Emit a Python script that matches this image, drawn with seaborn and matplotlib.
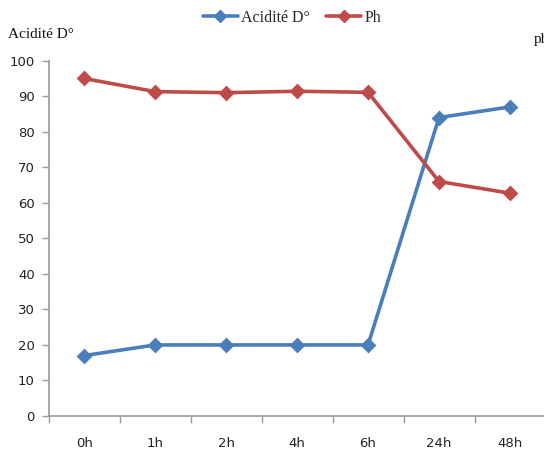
import matplotlib
matplotlib.use("Agg")
import matplotlib.pyplot as plt
from matplotlib.lines import Line2D
from matplotlib.ticker import FixedLocator, NullFormatter
import seaborn as sns
import pandas as pd

# Data
temps = ["0h", "1h", "2h", "4h", "6h", "24h", "48h"]
acidite = [17, 20, 20, 20, 20, 84, 87]
ph = [95, 91.3, 91, 91.4, 91.1, 66, 62.7]

BLUE = "#4A7EBB"
RED = "#BE4B48"

df = pd.DataFrame({
    "temps": temps * 2,
    "valeur": acidite + ph,
    "serie": ["Acidité D°"] * len(temps) + ["Ph"] * len(temps),
})

sns.set_theme(style="white")
plt.rcParams["font.family"] = ["DejaVu Sans"]

W, H = 544, 458
fig = plt.figure(figsize=(W / 100, H / 100), dpi=100)
left, right, bottom, top = 48.6, 545.5, 416, 60.7
ax = fig.add_axes([left / W, 1 - bottom / H, (right - left) / W, (bottom - top) / H])

sns.pointplot(
    data=df, x="temps", y="valeur", hue="serie", order=temps,
    palette={"Acidité D°": BLUE, "Ph": RED},
    markers="D", linestyles="-", linewidth=2.6, markersize=6,
    errorbar=None, ax=ax, legend=False,
)

ax.set_xlim(-0.5, len(temps) - 0.5)
ax.set_ylim(0, 100)
ax.set_yticks(range(0, 101, 10))
ax.set_xlabel("")
ax.set_ylabel("")

for s in ("top", "right"):
    ax.spines[s].set_visible(False)
for s in ("left", "bottom"):
    ax.spines[s].set_color("#9a9a9a")
    ax.spines[s].set_linewidth(1.2)

# Category separators as minor ticks on the x axis
ax.xaxis.set_minor_locator(FixedLocator([i - 0.5 for i in range(len(temps) + 1)]))
ax.xaxis.set_minor_formatter(NullFormatter())
ax.tick_params(axis="x", which="major", length=0, pad=15, labelsize=9.5, labelcolor="#222222")
ax.tick_params(axis="x", which="minor", length=5, width=1, color="#9a9a9a", direction="out", bottom=True)
ax.tick_params(axis="y", which="major", length=5, width=1, color="#9a9a9a", direction="out", left=True,
               labelsize=9.5, labelcolor="#222222", pad=5)

serif = ["Liberation Serif", "DejaVu Serif"]
fig.text(8 / W, 1 - 34 / H, "Acidité D°", family=serif, fontsize=11, va="center", ha="left", color="#111111")
fig.text(534 / W, 1 - 40 / H, "ph", family=serif, fontsize=11, va="center", ha="left", color="#111111")

handles = [
    Line2D([], [], color=BLUE, lw=2.6, marker="D", markersize=6),
    Line2D([], [], color=RED, lw=2.6, marker="D", markersize=6),
]
fig.legend(handles, ["Acidité D°", "Ph"], loc="center", bbox_to_anchor=(292 / W, 1 - 18 / H),
           ncol=2, frameon=False, prop={"family": serif, "size": 11.5},
           handlelength=2.2, handletextpad=0.2, columnspacing=1.0)

fig.savefig("out.png", dpi=100)
